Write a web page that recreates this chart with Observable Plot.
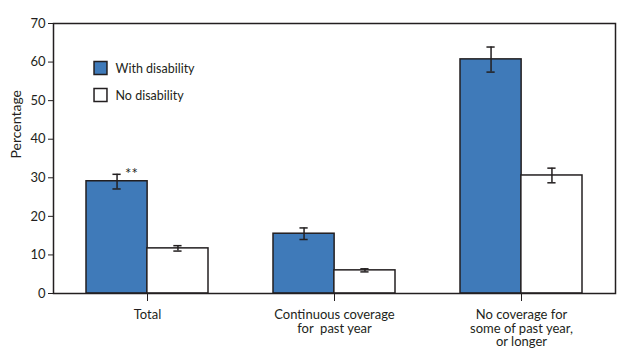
<!DOCTYPE html>
<html><head><meta charset="utf-8">
<script src="https://cdn.jsdelivr.net/npm/d3@7"></script>
<script src="https://cdn.jsdelivr.net/npm/@observablehq/plot@0.6"></script>
<style>
  body { margin: 0; background: #fff; }
  #chart svg { display: block; }
</style>
</head><body><div id="chart"></div>
<script>
// ---- data ----
const categories = [
  "Total",
  "Continuous coverage\nfor  past year",
  "No coverage for\nsome of past year,\nor longer"
];
const groups = ["With disability", "No disability"];
const withDisability = [29.1, 15.5, 60.7];
const withLow = [27.1, 14.0, 57.4];
const withHigh = [30.9, 17.0, 63.9];
const noDisability = [11.7, 6.0, 30.6];
const noLow = [11.0, 5.6, 28.7];
const noHigh = [12.4, 6.4, 32.5];
const yTicks = [0, 10, 20, 30, 40, 50, 60, 70];
const yLabel = "Percentage";
const annotation = [{category: "Total", group: "With disability", text: "**"}];
const colors = ["#3f7ab9", "#ffffff"];

// ---- table ----
const rows = categories.flatMap((c, i) => [
  {category: c, group: groups[0], value: withDisability[i], low: withLow[i], high: withHigh[i]},
  {category: c, group: groups[1], value: noDisability[i], low: noLow[i], high: noHigh[i]}
]);
const rowsWith = rows.filter(d => d.group === groups[0]);
const rowsNo = rows.filter(d => d.group === groups[1]);

// ---- layout ----
const W = 637, H = 364, mL = 53, mR = 22, mT = 23, mB = 71;
const pInner = 0.35, pOuter = 0.175;
const step = (W - mL - mR) / (categories.length - pInner + 2 * pOuter);
const bw = step * (1 - pInner);
const half = bw / 2;
const capW = 8;
const capInset = (bw - capW) / 2;
const ink = "#231f20";

const errMarks = (data, dx) => [
  Plot.ruleX(data, {x: "category", y1: "low", y2: "high", dx, stroke: ink, strokeWidth: 1.5}),
  Plot.tickY(data, {x: "category", y: "low", dx, insetLeft: capInset, insetRight: capInset, stroke: ink, strokeWidth: 1.5}),
  Plot.tickY(data, {x: "category", y: "high", dx, insetLeft: capInset, insetRight: capInset, stroke: ink, strokeWidth: 1.5})
];

const chart = Plot.plot({
  width: W, height: H,
  marginLeft: mL, marginRight: mR, marginTop: mT, marginBottom: mB,
  style: {fontFamily: "Lato, 'Open Sans', sans-serif", fontSize: "13px", color: ink, background: "#fff"},
  x: {domain: categories, paddingInner: pInner, paddingOuter: pOuter},
  y: {domain: [0, 70]},
  color: {domain: groups, range: colors},
  marks: [
    Plot.barY(rowsWith, {x: "category", y: "value", fill: "group", insetRight: half, stroke: ink, strokeWidth: 1.5}),
    Plot.barY(rowsNo, {x: "category", y: "value", fill: "group", insetLeft: half, stroke: ink, strokeWidth: 1.5}),
    ...errMarks(rowsWith, -half / 2),
    ...errMarks(rowsNo, half / 2),
    Plot.text(annotation, {x: "category", y: d => withHigh[categories.indexOf(d.category)], text: "text",
      dx: -half / 2 + 8, dy: 5, textAnchor: "start", lineAnchor: "bottom", fontSize: 15}),
    // legend inside plot
    Plot.dot([groups[0]], {frameAnchor: "top-left", dx: 47, dy: 44.5, symbol: "square", r: 7.3, fill: d => d, stroke: ink, strokeWidth: 1.5}),
    Plot.dot([groups[1]], {frameAnchor: "top-left", dx: 47, dy: 71.5, symbol: "square", r: 7.3, fill: d => d, stroke: ink, strokeWidth: 1.5}),
    Plot.text([groups[0]], {frameAnchor: "top-left", dx: 62, dy: 45, text: d => d, textAnchor: "start", lineAnchor: "middle", fontSize: 12.5}),
    Plot.text([groups[1]], {frameAnchor: "top-left", dx: 62, dy: 72, text: d => d, textAnchor: "start", lineAnchor: "middle", fontSize: 12.5}),
    Plot.frame({stroke: ink, strokeWidth: 1.5}),
    Plot.axisY({ticks: yTicks, tickSize: 5, tickPadding: 3, label: null, fontSize: 13}),
    Plot.text([yLabel], {frameAnchor: "left", text: d => d, rotate: -90, dx: -37, fontSize: 14}),
    Plot.axisX({tickSize: 8, tickFormat: () => "", label: null}),
    Plot.text(categories, {x: d => d, text: d => d, frameAnchor: "bottom", lineAnchor: "top", dy: 16, lineHeight: 1.04, fontSize: 13})
  ]
});
document.getElementById("chart").append(chart);
</script>
</body></html>
